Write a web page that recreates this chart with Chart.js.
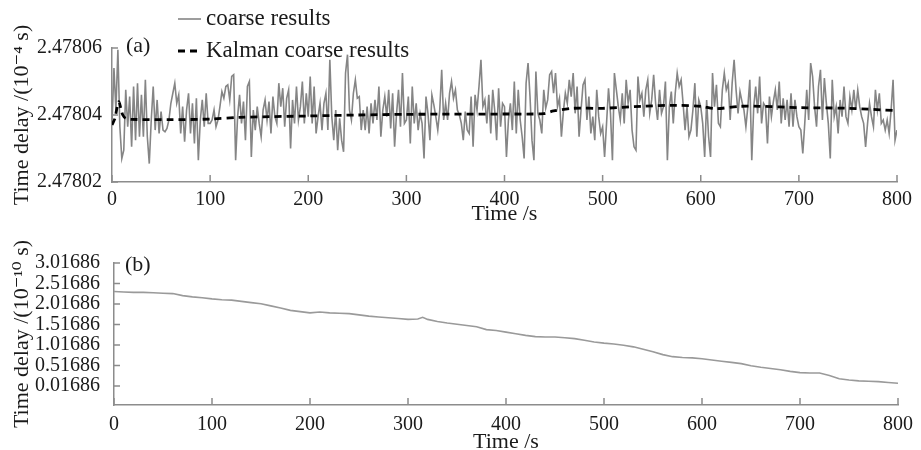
<!DOCTYPE html>
<html>
<head>
<meta charset="utf-8">
<script src="https://cdn.jsdelivr.net/npm/chart.js@4.4.1/dist/chart.umd.min.js"></script>
<style>
html, body { margin: 0; padding: 0; background: #fff; }
#wrap { position: relative; width: 921px; height: 450px; overflow: hidden; }
#wrapA { position: absolute; left: 0; top: 0; width: 921px; height: 230px; }
#wrapB { position: absolute; left: 0; top: 230px; width: 921px; height: 220px; }
</style>
</head>
<body>
<div id="wrap">
  <div id="wrapA"><canvas id="chartA" role="img" aria-label="(a) coarse results and Kalman coarse results"></canvas></div>
  <div id="wrapB"><canvas id="chartB" role="img" aria-label="(b) time delay"></canvas></div>
</div>
<script>
var FONT = "'Liberation Serif', 'DejaVu Serif', serif";
var INK = '#1a1a1a';
var AXIS = '#8c8c8c';

var xTicks = [0, 100, 200, 300, 400, 500, 600, 700, 800];
var yTicksA = [2.47802, 2.47804, 2.47806];
var yTicksB = [0.01686, 0.51686, 1.01686, 1.51686, 2.01686, 2.51686, 3.01686];

// panel (a): offsets above 2.47802 (10^-4 s), in units of 1e-6, one sample every 2 s
var coarseBase = 2.47802;
var coarseStep = 2;
var coarseOffset = [
  17.5, 34, 21.5, 39.5, 16.5, 7, 9.5, 27.5, 16.5, 25.5,
  10.5, 28.5, 12.5, 29.5, 13.5, 26, 13.5, 30.5, 13.5, 5.5,
  18.5, 28.5, 15.5, 24.5, 14.5, 21, 15.5, 15, 16, 18.5,
  23.5, 26.5, 29.5, 23.5, 26, 14.5, 22.5, 12, 21.5, 26.5,
  14.5, 23.5, 11.5, 25, 6.5, 18.5, 24.5, 16.5, 26.5, 17.5,
  17.5, 18.5, 21.5, 16.5, 18.5, 22.5, 27, 25, 28.5, 29,
  24.5, 31.5, 32, 6.5, 19.5, 26, 17.5, 24, 12.5, 28.5,
  30, 7.5, 21.5, 15.5, 22.5, 17.5, 13.5, 21.5, 24.5, 18.5,
  24, 14.5, 25.5, 19.5, 17.5, 29.5, 22.5, 28, 16.5, 25,
  27.5, 10, 24.5, 17.5, 28.5, 18.5, 22.5, 30, 17.5, 26.5,
  19.5, 31.5, 17.5, 28.5, 14.5, 19.5, 23.5, 15.5, 23.5, 26.5,
  15.5, 36.5, 19.5, 12.5, 21.5, 9.5, 19, 12.5, 9, 32.5,
  38, 21.5, 18.5, 26.5, 30.5, 25, 25.5, 15.5, 21.5, 15.5,
  22.5, 14.5, 23.5, 17.5, 24.5, 18.5, 28.5, 13.5, 21.5, 25.5,
  19.5, 27.5, 16, 26.5, 10.5, 20.5, 27.5, 16.5, 32.5, 17.5,
  18.5, 25.5, 11.5, 28.5, 17.5, 23.5, 15.5, 20.5, 17.5, 7,
  25.5, 20.5, 12.5, 26, 23, 19.5, 15.5, 21.5, 33.5, 18.5,
  23.5, 18.5, 26.5, 30, 25, 27.5, 21.5, 20, 17.5, 12.5,
  21, 15.5, 14.5, 25.5, 10.5, 26, 21.5, 28.5, 36.5, 22.5,
  24.5, 17.5, 26, 14.5, 27.5, 21.5, 12.5, 28, 16.5, 23.5,
  22.5, 7.5, 18.5, 23.5, 15.5, 30, 14.5, 27.5, 18.5, 13.5,
  7, 29.5, 35.5, 25.5, 12.5, 6.5, 33, 20.5, 18.5, 14.5,
  27.5, 22, 24.5, 32, 33, 26.5, 32.5, 22.5, 25, 13.5,
  21, 26.5, 23.5, 30.5, 25.5, 32.5, 20.5, 28.5, 13.5, 21.5,
  29, 30.5, 18.5, 25.5, 14.5, 19.5, 12.5, 27.5, 19.5, 14.5,
  16.5, 7.5, 17.5, 28, 20.5, 6.5, 32.5, 27.5, 22.5, 18.5,
  26.5, 17.5, 30.5, 23.5, 27.5, 15.5, 10.5, 9.5, 31.5, 24.5,
  26.5, 19.5, 27.5, 30.5, 20.5, 24.5, 32, 23.5, 18.5, 27.5,
  20.5, 22.5, 30, 6.5, 22.5, 27, 17.5, 26.5, 32.5, 28.5,
  30.5, 23.5, 15.5, 22.5, 13.5, 15.5, 21.5, 29.5, 13.5, 24.5,
  22.5, 17.5, 7.5, 24.5, 13.5, 7.5, 32.5, 22.5, 29, 17.5,
  16.5, 27.5, 32.5, 27.5, 29.5, 18.5, 29.5, 36.5, 27.5, 20.5,
  27, 24, 21.5, 16.5, 22.5, 30.5, 6.5, 22.5, 28.5, 20.5,
  31.5, 17.5, 23.5, 22.5, 11.5, 25.5, 19.5, 24, 27.5, 21.5,
  30, 17.5, 25, 18.5, 24.5, 16.5, 26.5, 16.5, 24.5, 19.5,
  16.5, 15.5, 8.5, 17.5, 27.5, 18.5, 35.5, 31.5, 22.5, 16.5,
  28.5, 33.5, 18.5, 31, 23.5, 17.5, 7, 30.5, 19.5, 22.5,
  14.5, 24.5, 19.5, 28.5, 19.5, 17.5, 25.5, 21.5, 27.5, 21.5,
  27.5, 22.5, 19.5, 17.5, 10.5, 17.5, 23.5, 19.5, 16.5, 27.5,
  21.5, 26.5, 17.5, 18.5, 15.5, 18.5, 14.5, 21.5, 30.5, 12.5,
  15.5
];

var kalmanTime = [0, 3, 5, 7, 9, 11, 14, 20, 60, 100, 130, 200, 250, 300, 400, 440, 450, 470, 500, 540, 575, 600, 615, 640, 660, 700, 750, 800];
var kalmanOffset = [17, 19, 22, 24, 22, 20, 19, 18.7, 18.6, 18.8, 19.3, 19.7, 20, 20.2, 20.3, 20.4, 21.2, 22, 22, 22.6, 22.9, 22.6, 21.9, 22.6, 22.6, 22.2, 22, 21.3];

// panel (b): time delay in 10^-10 s
var fineTime = [0, 10, 20, 30, 40, 50, 60, 70, 80, 90, 100, 110, 120, 130, 140, 150, 160, 170, 180, 190,
  200, 210, 220, 230, 240, 250, 260, 270, 280, 290, 300, 310, 315, 320, 330, 340, 350, 360, 370, 380, 390,
  400, 410, 420, 430, 440, 450, 460, 470, 480, 490, 500, 510, 520, 530, 540, 550, 560, 570, 580, 590,
  600, 610, 620, 630, 640, 650, 660, 670, 680, 690, 700, 710, 720, 730, 740, 750, 760, 770, 780, 790, 800];
var fineDelay = [2.32, 2.31, 2.30, 2.30, 2.29, 2.28, 2.27, 2.22, 2.19, 2.17, 2.14, 2.12, 2.11, 2.08, 2.05, 2.02, 1.97, 1.92, 1.86, 1.83,
  1.80, 1.82, 1.80, 1.79, 1.78, 1.75, 1.72, 1.70, 1.68, 1.66, 1.64, 1.65, 1.69, 1.64, 1.59, 1.55, 1.52, 1.49, 1.46, 1.39, 1.37,
  1.33, 1.29, 1.25, 1.22, 1.21, 1.21, 1.19, 1.17, 1.13, 1.09, 1.06, 1.04, 1.01, 0.97, 0.91, 0.85, 0.78, 0.73, 0.71, 0.70,
  0.68, 0.65, 0.62, 0.59, 0.56, 0.51, 0.47, 0.44, 0.41, 0.37, 0.34, 0.33, 0.33, 0.27, 0.19, 0.16, 0.14, 0.13, 0.12, 0.10, 0.08];

function fixedTicks(list) {
  return function(scale) {
    scale.ticks = list.map(function(v) { return { value: v }; });
  };
}

var innerTicks = {
  id: 'innerTicks',
  afterDatasetsDraw: function(chart) {
    var ctx = chart.ctx, a = chart.chartArea;
    var xs = chart.scales.x, ys = chart.scales.y;
    ctx.save();
    ctx.strokeStyle = AXIS;
    ctx.lineWidth = 1.5;
    ctx.beginPath();
    xs.ticks.forEach(function(t) {
      var p = xs.getPixelForValue(t.value);
      ctx.moveTo(p, a.bottom); ctx.lineTo(p, a.bottom - 7);
    });
    ys.ticks.forEach(function(t) {
      var p = ys.getPixelForValue(t.value);
      ctx.moveTo(a.left, p); ctx.lineTo(a.left + 6, p);
    });
    ctx.stroke();
    ctx.restore();
  }
};

var panelText = {
  id: 'panelText',
  afterDraw: function(chart, args, opts) {
    var ctx = chart.ctx;
    ctx.save();
    ctx.fillStyle = INK;
    ctx.textBaseline = 'middle';
    ctx.font = '22px ' + FONT;
    ctx.fillText(opts.tag, opts.tagX, opts.tagY);
    if (opts.legend) {
      var rows = [19, 51];
      chart.data.datasets.forEach(function(ds, i) {
        var y = rows[i];
        ctx.save();
        ctx.strokeStyle = ds.borderColor;
        ctx.lineWidth = ds.borderWidth;
        ctx.setLineDash(ds.borderDash || []);
        ctx.beginPath();
        ctx.moveTo(178, y); ctx.lineTo(201, y);
        ctx.stroke();
        ctx.restore();
        ctx.font = '23px ' + FONT;
        ctx.fillText(ds.label, 206, y);
      });
    }
    ctx.restore();
  }
};

function xScale(height, pad, titlePad) {
  return {
    type: 'linear', min: 0, max: 800,
    afterBuildTicks: fixedTicks(xTicks),
    afterFit: function(s) { s.height = height; },
    grid: { display: false, drawTicks: false },
    border: { display: true, color: AXIS, width: 1.5 },
    ticks: { color: INK, font: { family: FONT, size: 20 }, padding: pad, maxRotation: 0, autoSkip: false,
      callback: function(v) { return String(v); } },
    title: { display: true, text: 'Time /s', color: INK, font: { family: FONT, size: 22, lineHeight: 1 },
      padding: { top: 0, bottom: titlePad } }
  };
}

function yScale(width, list, min, max, pad, title) {
  return {
    type: 'linear', min: min, max: max,
    afterBuildTicks: fixedTicks(list),
    afterFit: function(s) { s.width = width; },
    grid: { display: false, drawTicks: false },
    border: { display: true, color: AXIS, width: 1.5 },
    ticks: { color: INK, font: { family: FONT, size: 20 }, padding: pad, autoSkip: false,
      callback: function(v) { return v.toFixed(5); } },
    title: { display: true, text: title, color: INK, font: { family: FONT, size: 22, lineHeight: 1 },
      padding: { top: 11, bottom: 0 } }
  };
}

var coarsePoints = coarseOffset.map(function(d, i) { return { x: i * coarseStep, y: coarseBase + d / 1e6 }; });
var kalmanPoints = kalmanTime.map(function(t, i) { return { x: t, y: coarseBase + kalmanOffset[i] / 1e6 }; });
var finePoints = fineTime.map(function(t, i) { return { x: t, y: fineDelay[i] }; });

new Chart(document.getElementById('chartA'), {
  type: 'line',
  data: {
    datasets: [
      { label: 'coarse results', data: coarsePoints, borderColor: '#858585', borderWidth: 1.6, pointRadius: 0, tension: 0, order: 1 },
      { label: 'Kalman coarse results', data: kalmanPoints, borderColor: '#000', borderWidth: 2.8, borderDash: [7, 5], pointRadius: 0, tension: 0.3, order: 0 }
    ]
  },
  options: {
    responsive: true, maintainAspectRatio: false, animation: false, events: [],
    layout: { padding: { left: 0, top: 48, right: 24, bottom: 0 } },
    plugins: { legend: { display: false }, tooltip: { enabled: false },
      panelText: { tag: '(a)', tagX: 126, tagY: 46, legend: true } },
    scales: {
      x: xScale(48, 6, 5),
      y: yScale(112, yTicksA, 2.47802, 2.47806, 10, 'Time delay /(10\u207B\u2074 s)')
    }
  },
  plugins: [innerTicks, panelText]
});

new Chart(document.getElementById('chartB'), {
  type: 'line',
  data: {
    datasets: [
      { label: 'time delay', data: finePoints, borderColor: '#9a9a9a', borderWidth: 1.6, pointRadius: 0, tension: 0 }
    ]
  },
  options: {
    responsive: true, maintainAspectRatio: false, animation: false, events: [],
    layout: { padding: { left: 0, top: 33, right: 16, bottom: 0 } },
    plugins: { legend: { display: false }, tooltip: { enabled: false },
      panelText: { tag: '(b)', tagX: 125, tagY: 35, legend: false } },
    scales: {
      x: xScale(45, 8, -3),
      y: yScale(114, yTicksB, -0.45, 3.01686, 14, 'Time delay /(10\u207B\u00B9\u2070 s)')
    }
  },
  plugins: [innerTicks, panelText]
});
</script>
</body>
</html>
